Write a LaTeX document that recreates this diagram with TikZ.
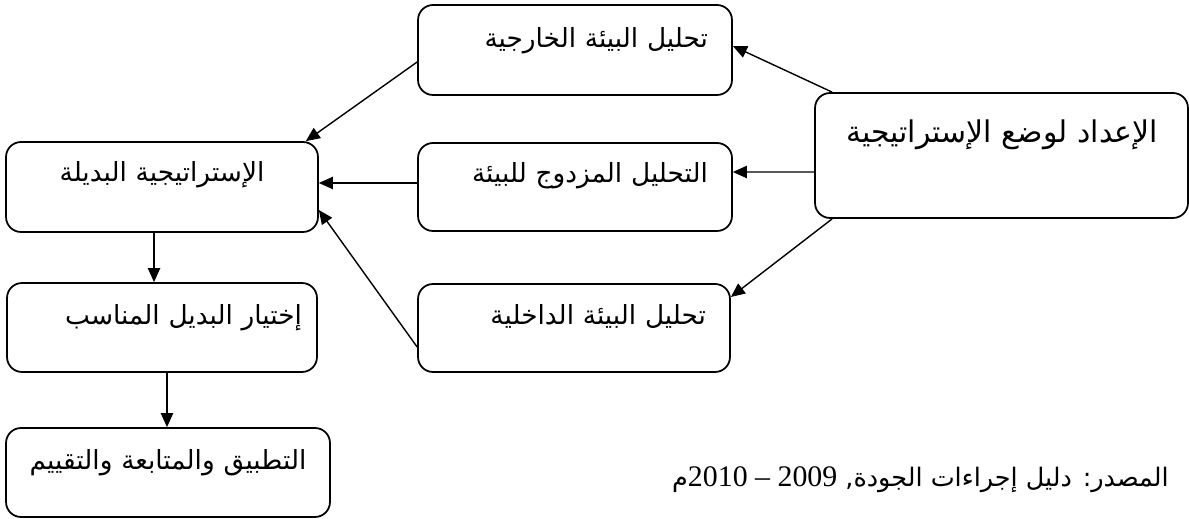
\documentclass[tikz,border=0pt]{standalone}
\usepackage{fontspec}
\TeXXeTstate=1
\newfontfamily\arabicfont[Script=Arabic]{DejaVu Sans}
\newfontfamily\numfont{Liberation Serif}
\usetikzlibrary{arrows.meta, positioning, calc}

\begin{document}
\begin{tikzpicture}[x=0.02cm, y=-0.02cm,
    block/.style={rectangle, rounded corners=0.3cm, draw=black, line width=1pt, inner xsep=0.48cm, inner ysep=0pt, align=right, font=\arabicfont\fontsize{15}{18}\selectfont},
    arrow/.style={-{Triangle[length=8pt, width=7pt]}, line width=0.8pt}
]
\useasboundingbox (0,0) rectangle (1189,519);

% Analysis blocks
\node[block, text width=5.32cm, text height=0.86cm, text depth=0.94cm] (ext) at (575,50) {\beginR تحليل البيئة الخارجية\endR};
\node[block, text width=5.32cm, text height=0.80cm, text depth=0.96cm] (dual) at (575,187) {\beginR التحليل المزدوج للبيئة\endR};
\node[block, text width=5.28cm, text height=0.82cm, text depth=0.94cm] (inner) at (574,328) {\beginR تحليل البيئة الداخلية\endR};

% Preparation
\node[block, inner xsep=0.6cm, text width=6.26cm, text height=1.0cm, text depth=1.5cm, font=\arabicfont\fontsize{17}{20}\selectfont] (prep) at (1001.5,155.5) {\beginR الإعداد لوضع الإستراتيجية\endR};

% Strategy chain
\node[block, align=center, text width=5.28cm, text height=0.8cm, text depth=1.0cm] (alt) at (162,187) {\beginR الإستراتيجية البديلة\endR};
\node[block, inner xsep=0.3cm, text width=5.6cm, text height=0.84cm, text depth=0.94cm] (choose) at (162,327.5) {\beginR إختيار البديل المناسب\endR};
\node[block, align=center, inner xsep=0.2cm, text width=6.08cm, text height=0.84cm, text depth=0.94cm] (impl) at (168,472.5) {\beginR التطبيق والمتابعة والتقييم\endR};

% Arrows
\draw[arrow] ($(prep.north west)+(18,0)$) -- ($(ext.east)+(0,-4)$);
\draw[arrow] ($(prep.west)+(0,16.5)$) -- ($(dual.east)+(0,-15)$);
\draw[arrow] ($(prep.south west)+(18,0)$) -- ($(inner.east)+(0,-31)$);
\draw[arrow] ($(ext.west)+(0,12)$) -- ($(alt.north east)+(-13,0)$);
\draw[arrow] ($(dual.west)+(0,-4)$) -- ($(alt.east)+(0,-4)$);
\draw[arrow] ($(inner.west)+(0,19)$) -- ($(alt.east)+(0,23)$);
\draw[arrow] ($(alt.south)+(-8,0)$) -- ($(choose.north)+(-8,0)$);
\draw[arrow] ($(choose.south)+(5,0)$) -- ($(impl.north)+(-1,0)$);

% Source
\node[anchor=base east, inner sep=0pt, font=\arabicfont\fontsize{14.5}{18}\selectfont] (src) at (1169,487) {\beginR المصدر: دليل إجراءات الجودة, {\numfont\fontsize{17}{20}\selectfont 2009 – 2010}م\endR};
\end{tikzpicture}
\end{document}
